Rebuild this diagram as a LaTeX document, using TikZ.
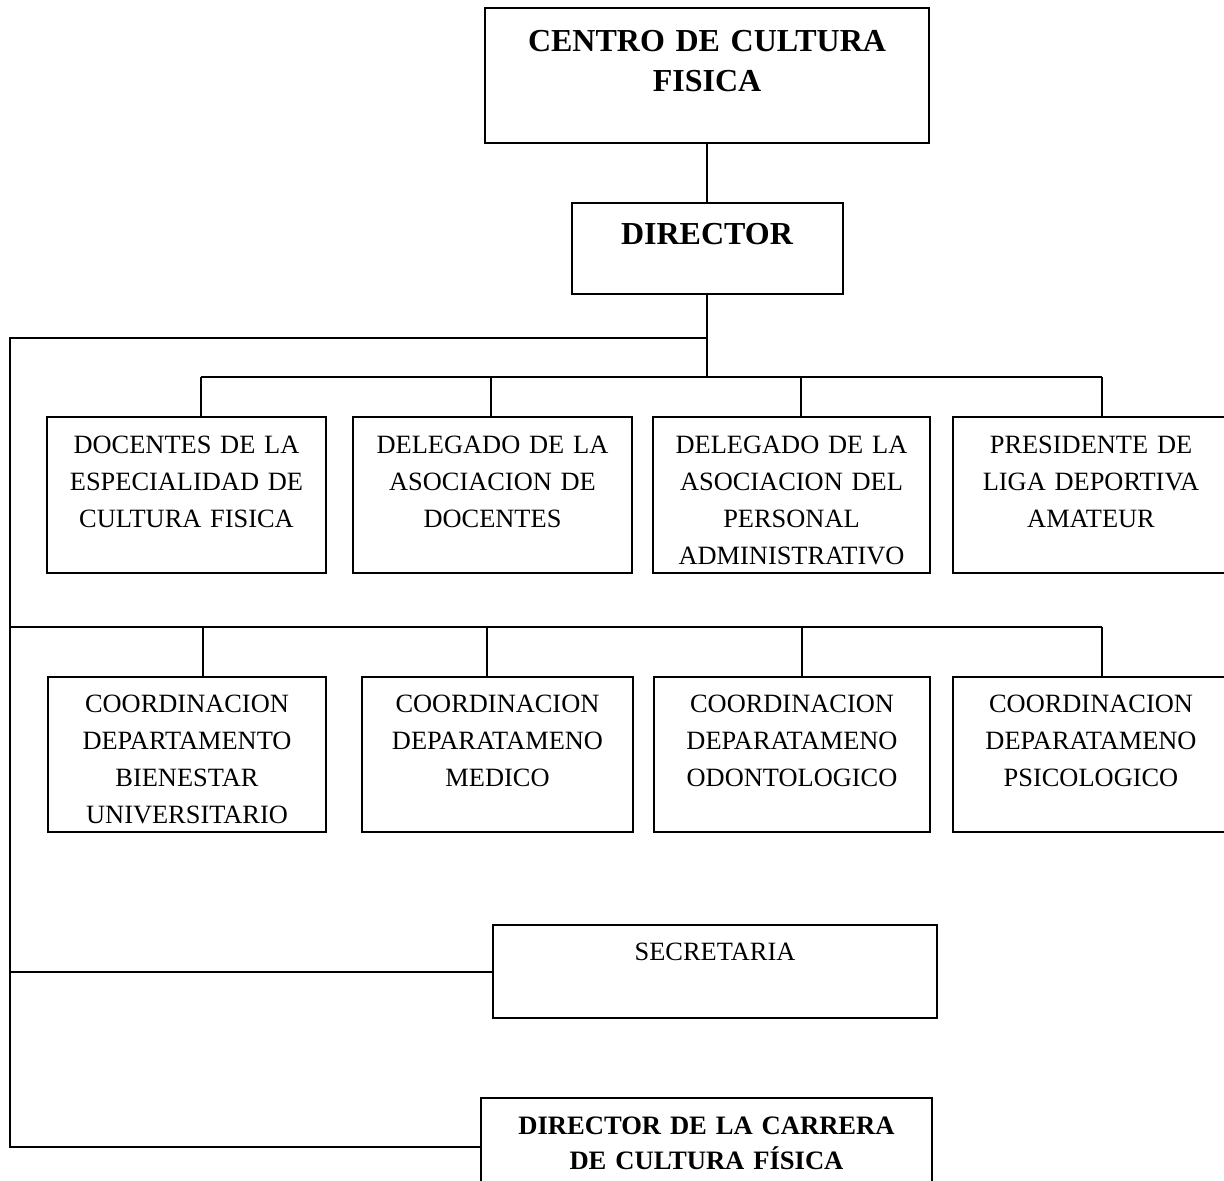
\documentclass[tikz,border=0pt]{standalone}
\usepackage{fontspec}
\setmainfont{Liberation Serif}

\tikzset{
    orgbox/.style={draw, line width=1pt, inner sep=0pt, align=center,
        font=\fontsize{13.2}{18.5}\selectfont},
    headbox/.style={orgbox, font=\bfseries\fontsize{16}{20}\selectfont},
    boxdim/.style n args={3}{text width=#1, text height=#2, text depth=#3},
    link/.style={line width=1pt}
}

\begin{document}
\begin{tikzpicture}[x=0.5pt, y=-0.5pt]
    \path[use as bounding box, fill=white] (0,0) rectangle (1224,1181);

    \node[headbox, boxdim={222pt}{22pt}{45.5pt}] (centro) at (707,75.5) {CENTRO DE CULTURA\\FISICA};
    \node[headbox, boxdim={135.5pt}{21pt}{24.5pt}] (director) at (707,248.5) {DIRECTOR};

    \node[orgbox, boxdim={139.5pt}{18pt}{60pt}] (b1) at (186.5,495) {DOCENTES DE LA\\ESPECIALIDAD DE\\CULTURA FISICA};
    \node[orgbox, boxdim={139.5pt}{18pt}{60pt}] (b2) at (492.5,495) {DELEGADO DE LA\\ASOCIACION DE\\DOCENTES};
    \node[orgbox, boxdim={138.5pt}{18pt}{60pt}] (b3) at (791.5,495) {DELEGADO DE LA\\ASOCIACION DEL\\PERSONAL\\ADMINISTRATIVO};
    \node[orgbox, boxdim={138pt}{18pt}{60pt}] (b4) at (1091,495) {PRESIDENTE DE\\LIGA DEPORTIVA\\AMATEUR};

    \node[orgbox, boxdim={139pt}{17.5pt}{60pt}] (c1) at (187,754.5) {COORDINACION\\DEPARTAMENTO\\BIENESTAR\\UNIVERSITARIO};
    \node[orgbox, boxdim={135.5pt}{17.5pt}{60pt}] (c2) at (497.5,754.5) {COORDINACION\\DEPARATAMENO\\MEDICO};
    \node[orgbox, boxdim={138pt}{17.5pt}{60pt}] (c3) at (792,754.5) {COORDINACION\\DEPARATAMENO\\ODONTOLOGICO};
    \node[orgbox, boxdim={138pt}{17.5pt}{60pt}] (c4) at (1091,754.5) {COORDINACION\\DEPARATAMENO\\PSICOLOGICO};

    \node[orgbox, boxdim={222pt}{17.5pt}{29pt}] (secretaria) at (715,971.5) {SECRETARIA};
    \node[orgbox, boxdim={225.5pt}{18pt}{31pt}, font=\bfseries\fontsize{13.3}{17.5}\selectfont] (carrera) at (706.5,1147) {DIRECTOR DE LA CARRERA\\DE CULTURA FÍSICA};

    \coordinate (spine) at (10,338);
    \coordinate (r1w) at (201,377);
    \coordinate (r1e) at (1102,377);
    \coordinate (r2w) at (10,627);
    \coordinate (r2e) at (1102,627);

    \draw[link] (centro) -- (director);
    \draw[link] (director) -- (director |- r1w);
    \draw[link] (director |- spine) -- (spine) -- (spine |- carrera.west) -- (carrera.west);
    \draw[link] (spine |- secretaria.west) -- (secretaria.west);

    \draw[link] (r1w) -- (r1e);
    \foreach \n/\x in {b1/201, b2/491, b3/801, b4/1102}
    {\draw[link] (\x,377) -- (\x,0 |- \n.north);}

    \draw[link] (r2w) -- (r2e);
    \foreach \n/\x in {c1/203, c2/487, c3/802, c4/1102}
    {\draw[link] (\x,627) -- (\x,0 |- \n.north);}
\end{tikzpicture}
\end{document}
